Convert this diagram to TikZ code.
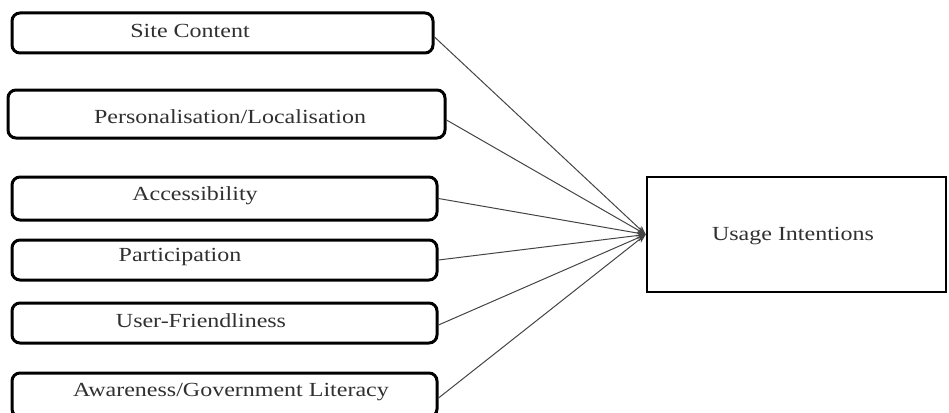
\documentclass[tikz,border=0pt]{standalone}
\usepackage{fontspec}
\setmainfont{Liberation Serif}[FakeStretch=1.2]
\usetikzlibrary{arrows.meta}
\definecolor{txt}{HTML}{303030}
\definecolor{ln}{HTML}{444444}
\begin{document}
\begin{tikzpicture}[x=1pt,y=-1pt,
  fbox/.style={draw=black,line width=3pt,rounded corners=8pt,inner sep=0pt},
  ubox/.style={draw=black,line width=2.5pt,inner sep=0pt,minimum width=299pt,minimum height=115pt},
  lbl/.style={text=txt,font=\fontsize{20}{24}\selectfont,inner sep=0pt},
  conn/.style={draw=ln,line width=1pt,-{Stealth[length=9pt,width=7pt]}}]
\useasboundingbox (0,0) rectangle (949,412);
\clip (0,0) rectangle (949,412);
\node[fbox,minimum width=421pt,minimum height=40pt] (site) at (222.5,33) {};
\node[fbox,minimum width=437pt,minimum height=48pt] (pers) at (226.5,114) {};
\node[fbox,minimum width=425pt,minimum height=43pt] (acc) at (224.5,198.5) {};
\node[fbox,minimum width=425pt,minimum height=40pt] (par) at (224.5,260) {};
\node[fbox,minimum width=425pt,minimum height=40pt] (usr) at (224.5,323) {};
\node[fbox,minimum width=425pt,minimum height=44pt] (awa) at (224.5,395) {};
\node[ubox] (use) at (796.5,234.5) {};
\node[lbl] (tsite) at (190,31) {Site Content};
\node[lbl] (tpers) at (230,117) {Personalisation/Localisation};
\node[lbl] (tacc) at (195,196) {Accessibility};
\node[lbl] (tpar) at (180,257) {Participation};
\node[lbl] (tusr) at (201,321) {User-Friendliness};
\node[lbl] (tawa) at (231,392) {Awareness/Government Literacy};
\node[lbl] (tuse) at (793,236) {Usage Intentions};
\draw[conn] ([yshift=-4pt]site.east) -- (use.west);
\draw[conn] ([yshift=-6pt]pers.east) -- (use.west);
\draw[conn] (acc.east) -- (use.west);
\draw[conn] (par.east) -- (use.west);
\draw[conn] ([yshift=-2pt]usr.east) -- (use.west);
\draw[conn] ([yshift=-3pt]awa.east) -- (use.west);
\end{tikzpicture}
\end{document}
